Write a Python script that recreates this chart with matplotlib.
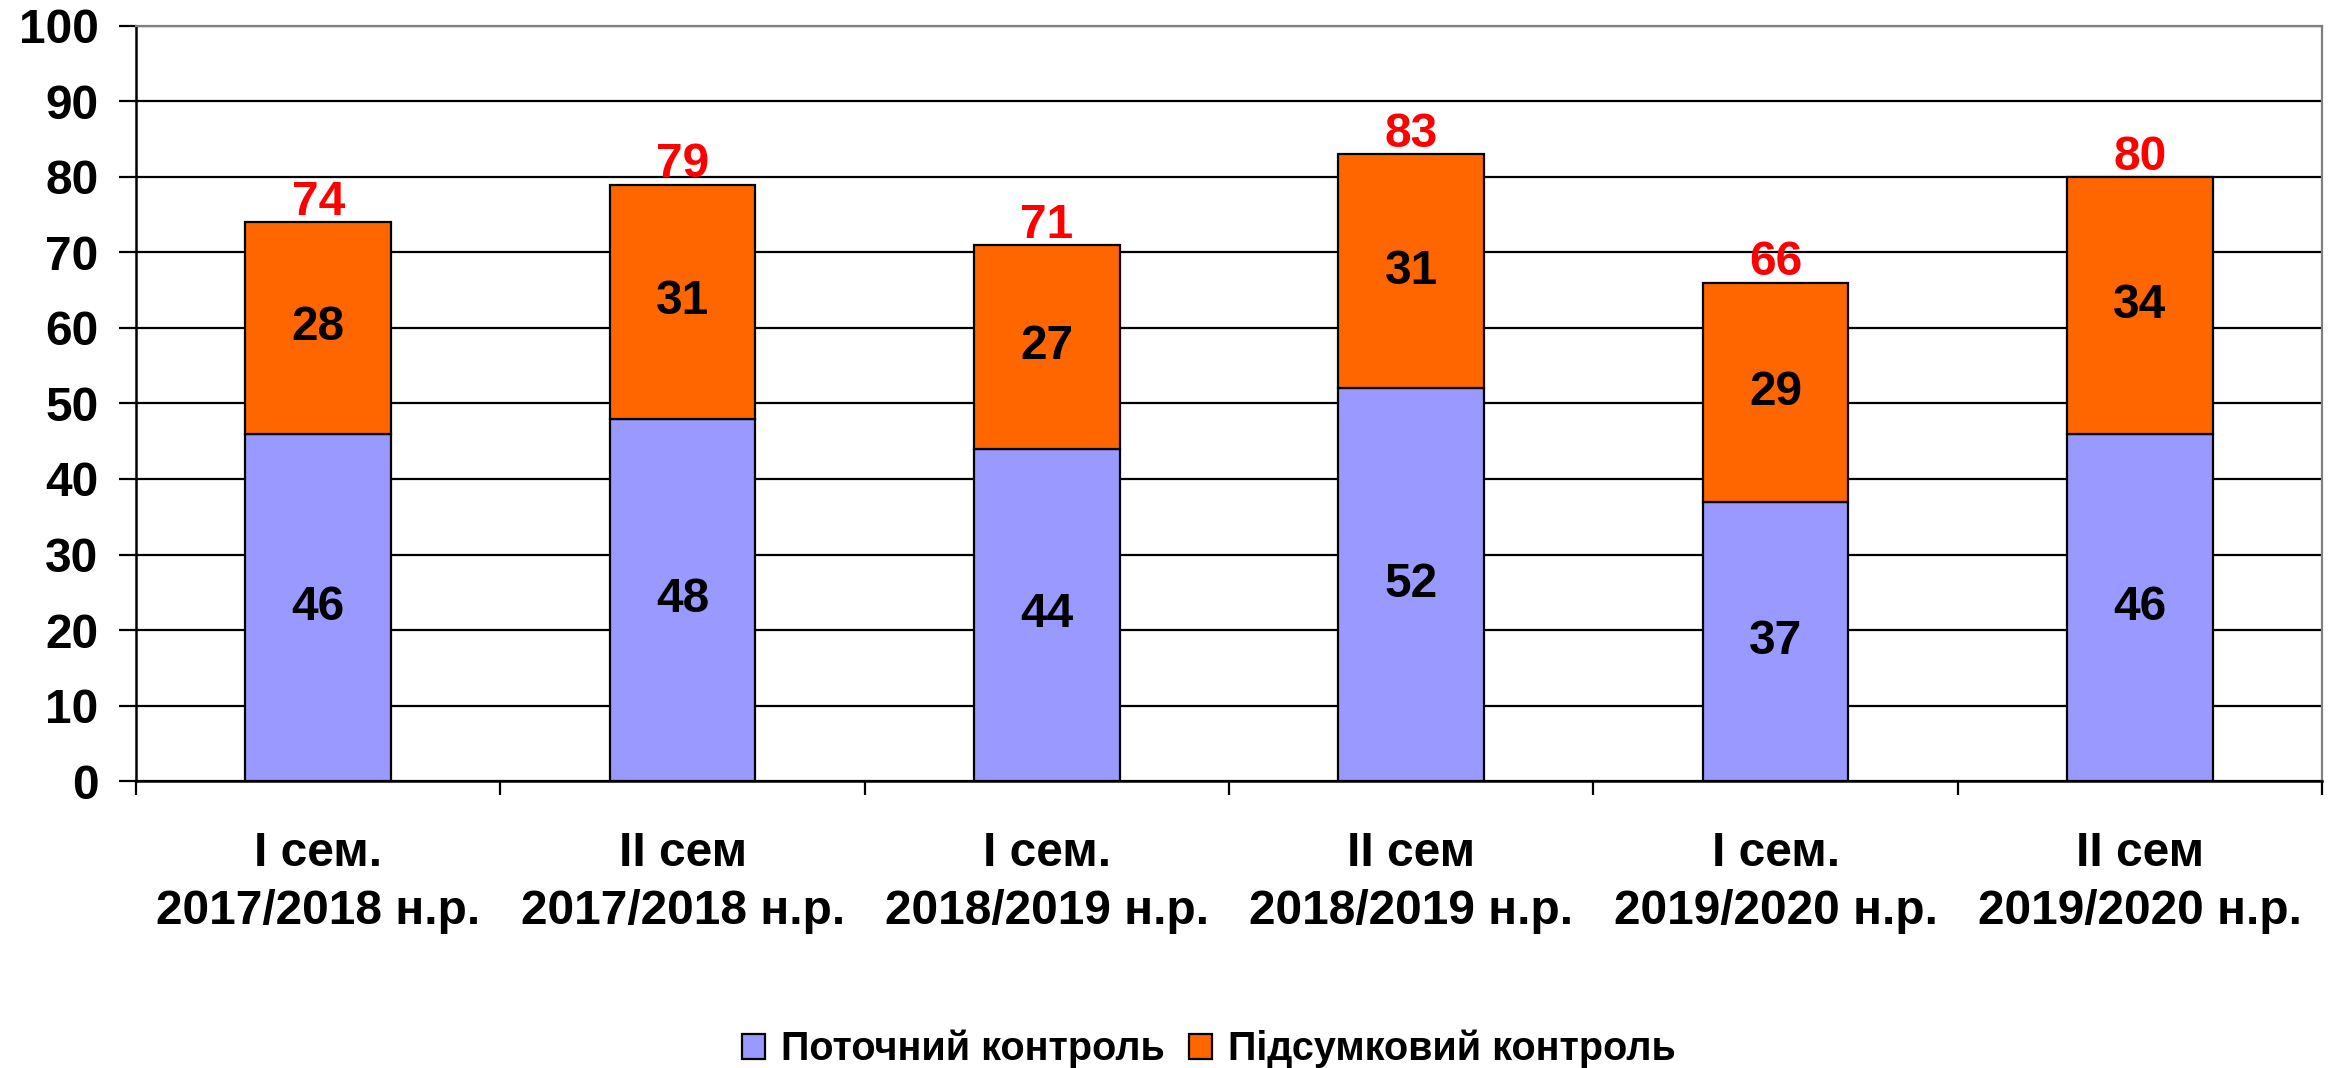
import matplotlib
matplotlib.use('Agg')
from matplotlib import pyplot as plt
import numpy as np

# дані
semesters = ['I сем.\n2017/2018 н.р.', 'II сем\n2017/2018 н.р.', 'I сем.\n2018/2019 н.р.',
             'II сем\n2018/2019 н.р.', 'I сем.\n2019/2020 н.р.', 'II сем\n2019/2020 н.р.']
potochnyi = [46, 48, 44, 52, 37, 46]
pidsumkovyi = [28, 31, 27, 31, 29, 34]
series_names = ['Поточний контроль', 'Підсумковий контроль']

plt.rcParams['font.family'] = ['Liberation Sans', 'DejaVu Sans']
plt.rcParams['font.weight'] = 'bold'

FS = 34.5

fig = plt.figure(figsize=(23.38, 10.68), dpi=100)
ax = fig.add_axes([0.0582, 0.2687, 0.935, 0.7070])

x = np.arange(len(semesters))
bottoms = np.array(potochnyi)
tops = np.array(pidsumkovyi)
totals = bottoms + tops

b1 = ax.bar(x, bottoms, width=0.40, color='#9999FF', edgecolor='black', linewidth=1.6,
            label=series_names[0], zorder=3)
b2 = ax.bar(x, tops, bottom=bottoms, width=0.40, color='#FF6600', edgecolor='black',
            linewidth=1.6, label=series_names[1], zorder=3)

# підписи значень
for i in range(len(x)):
    ax.text(x[i], bottoms[i] / 2, str(bottoms[i]), ha='center', va='center',
            fontsize=FS, fontweight='bold', color='black', zorder=4)
    ax.text(x[i], bottoms[i] + tops[i] / 2, str(tops[i]), ha='center', va='center',
            fontsize=FS, fontweight='bold', color='black', zorder=4)
    ax.annotate(str(totals[i]), (x[i], totals[i]), xytext=(0, -2), textcoords='offset points',
                ha='center', va='bottom', fontsize=FS, fontweight='bold', color='#FF0000')

ax.set_xlim(-0.5, len(x) - 0.5)
ax.set_ylim(0, 100)
ax.set_yticks(np.arange(0, 101, 10))
ax.yaxis.grid(True, color='black', linewidth=1.6, zorder=0)
ax.set_axisbelow(True)

# підписи категорій та поділки між ними
ax.set_xticks(x)
ax.set_xticklabels(semesters, fontsize=FS, fontweight='bold', linespacing=1.38)
ax.set_xticks(np.arange(-0.5, len(x), 1.0), minor=True)
ax.tick_params(axis='x', which='major', length=0, pad=36)
ax.tick_params(axis='x', which='minor', length=10, width=1.6)
ax.tick_params(axis='y', length=12, width=1.6, labelsize=FS, pad=15)
for lab in ax.get_yticklabels():
    lab.set_fontweight('bold')

ax.spines['left'].set_linewidth(1.8)
ax.spines['bottom'].set_linewidth(1.8)
ax.spines['top'].set_color('#808080')
ax.spines['right'].set_color('#808080')
ax.spines['top'].set_linewidth(1.6)
ax.spines['right'].set_linewidth(1.6)

fig.legend(handles=[b1, b2], loc='center', bbox_to_anchor=(0.517, 0.018), ncol=2,
           frameon=False, handlelength=0.6, handleheight=0.6,
           handletextpad=0.4, columnspacing=0.6, borderpad=0.1,
           prop={'weight': 'bold', 'size': 28.5})

plt.savefig('out.png', dpi=100)
